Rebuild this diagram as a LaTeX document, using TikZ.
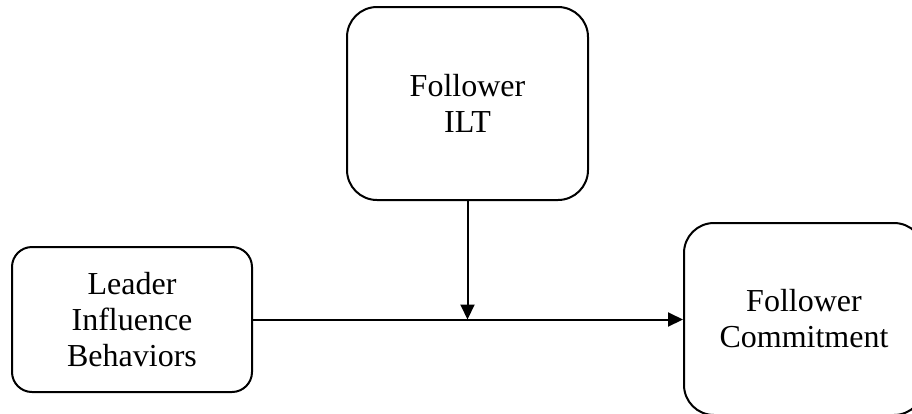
\documentclass[tikz,border=0pt]{standalone}
\usepackage{fontspec}
\setmainfont{Liberation Serif}
\usetikzlibrary{arrows.meta}

\tikzset{
  concept/.style={draw, line width=2pt, rounded corners=#1, inner sep=0pt,
    align=center, font=\fontsize{32}{36}\selectfont},
  link/.style={line width=2pt, -{Triangle[length=15pt, width=14pt]}}
}

\begin{document}
\begin{tikzpicture}[x=1pt, y=-1pt]
  \useasboundingbox (0,0) rectangle (912,413);
  \clip (0,0) rectangle (912,413);

  \node[concept=20pt, minimum width=240pt, minimum height=145pt]
    (leader) at (132,319.5) {Leader\\Influence\\Behaviors};
  \node[concept=30pt, minimum width=241pt, minimum height=193pt]
    (ilt) at (467.5,103.5) {Follower\\ILT};
  \node[concept=30pt, minimum width=240pt, minimum height=192pt]
    (commit) at (804,319) {Follower\\Commitment};

  \coordinate (join) at (ilt.south |- leader.east);

  \draw[link] (leader.east) -- (commit.west |- leader.east);
  \draw[link] (ilt.south) -- (join);
\end{tikzpicture}
\end{document}
